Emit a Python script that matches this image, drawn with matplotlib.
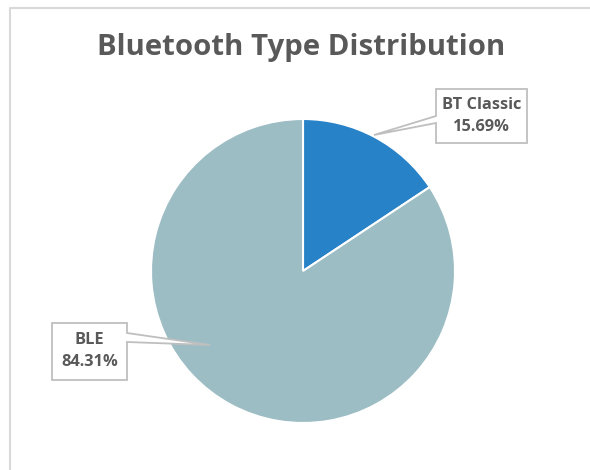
import matplotlib
matplotlib.use("Agg")
import matplotlib.pyplot as plt
from matplotlib.patches import Polygon

labels = ["BT Classic", "BLE"]
values = [15.69, 84.31]
colors = ["#2882C8", "#9DBDC4"]
title = "Bluetooth Type Distribution"

W, H = 590, 470
fig = plt.figure(figsize=(W / 100, H / 100), dpi=100)
ax = fig.add_axes([0, 0, 1, 1])
ax.set_xlim(0, W)
ax.set_ylim(0, H)
ax.set_aspect("equal")
ax.axis("off")

def Y(p):
    return H - p

# chart-area border
ax.plot([10, 10, W + 5], [Y(H + 5), Y(8), Y(8)], color="#D9D9D9", lw=1.5, solid_capstyle="butt")

cx, cy, r = 303, 271, 152
ax.pie(values, colors=colors, startangle=90, counterclock=False,
       center=(cx, Y(cy)), radius=r,
       wedgeprops=dict(edgecolor="white", linewidth=1.5))
ax.set_xlim(0, W)
ax.set_ylim(0, H)

ax.text(W / 2 + 6, Y(48), title, ha="center", va="center",
        fontsize=21.2, fontweight="bold", color="#595959", family="Open Sans")

def callout(box, attach, tip, text):
    x0, y0, x1, y1 = box
    a0, a1 = attach
    if tip[0] < x0:
        pts = [(x0, y0), (x1, y0), (x1, y1), (x0, y1), (x0, a1), tip, (x0, a0)]
    else:
        pts = [(x0, y0), (x1, y0), (x1, a0), tip, (x1, a1), (x1, y1), (x0, y1)]
    pts = [(px, Y(py)) for px, py in pts]
    ax.add_patch(Polygon(pts, closed=True, facecolor="white", edgecolor="#BFBFBF", lw=1.3, zorder=5))
    ax.text((x0 + x1) / 2, Y((y0 + y1) / 2), text, ha="center", va="center",
            fontsize=11.8, fontweight="bold", color="#595959", family="Open Sans",
            linespacing=1.5, zorder=6)

callout((436, 89, 527, 143), (116, 123), (374, 135),
        f"{labels[0]}\n{values[0]:.2f}%")
callout((52, 323, 127, 380), (333, 342), (210, 345),
        f"{labels[1]}\n{values[1]:.2f}%")

fig.savefig("out.png", dpi=100)
